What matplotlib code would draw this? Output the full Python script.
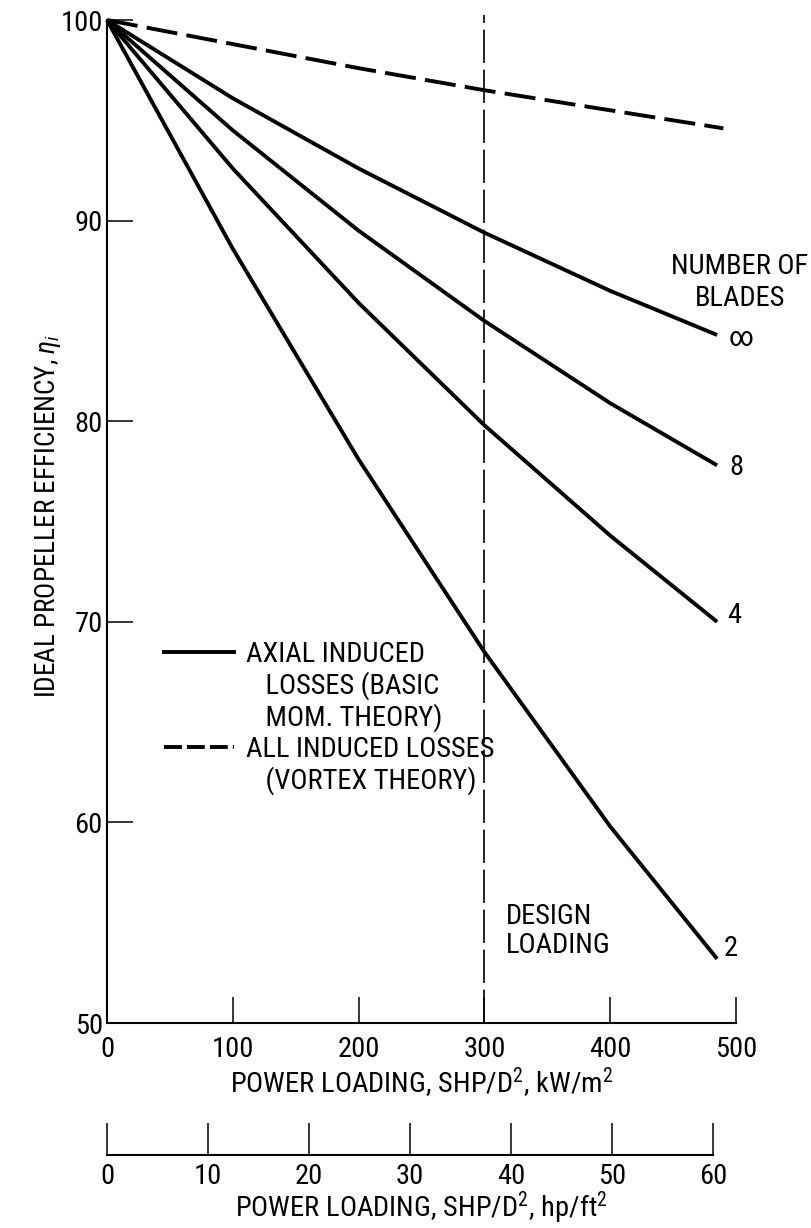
"""
Eficiência ideal da hélice vs carga de potência (recriação do gráfico NASA).
"""

import matplotlib
matplotlib.use("Agg")
import matplotlib.pyplot as plt
from matplotlib import font_manager
from matplotlib.lines import Line2D


def escolher_fonte():
    # o original usa letras estreitas; procura uma fonte condensada instalada
    lista = font_manager.fontManager.ttflist
    nomes = {f.name for f in lista}
    for n in ("Liberation Sans Narrow", "Roboto Condensed", "Noto Sans Condensed",
              "Open Sans Condensed", "DejaVu Sans Condensed"):
        if n in nomes:
            return n, "normal"
    for familia in ("DejaVu Sans", "Noto Sans", "Open Sans", "Roboto"):
        for f in lista:
            if f.name == familia and "condensed" in str(f.stretch):
                return familia, "condensed"
    return "Roboto", "normal"


FONTE, ESTICAR = escolher_fonte()
plt.rcParams["font.family"] = [FONTE, "DejaVu Sans"]
plt.rcParams["font.stretch"] = ESTICAR
plt.rcParams["mathtext.fontset"] = "custom"
sufixo = ":condensed" if ESTICAR == "condensed" else ""
plt.rcParams["mathtext.rm"] = FONTE + sufixo
plt.rcParams["mathtext.it"] = FONTE + ":italic" + sufixo

# dados (carga em kW/m^2, eficiência em %)
carga_kw = [0, 100, 200, 300, 400, 485]
eta_inf = [100, 96.1, 92.6, 89.4, 86.5, 84.3]
eta_8 = [100, 94.5, 89.5, 85.0, 80.9, 77.8]
eta_4 = [100, 92.6, 85.9, 79.8, 74.3, 70.0]
eta_2 = [100, 88.6, 78.1, 68.5, 59.8, 53.2]

carga_vortex = [0, 100, 200, 300, 400, 490]
eta_vortex = [100, 98.8, 97.6, 96.5, 95.5, 94.6]

rotulos_pas = ["\u221e", "8", "4", "2"]
pos_rotulos = [(494, 84.15), (495, 77.7), (493, 70.3), (490, 53.7)]

carga_projeto = 300
ticks_kw = [0, 100, 200, 300, 400, 500]
ticks_eta = [50, 60, 70, 80, 90, 100]
ticks_hp = [0, 10, 20, 30, 40, 50, 60]
KW_POR_HP_FT2 = 8.0267  # 1 hp/ft^2 em kW/m^2

FS = 20.5

fig = plt.figure(figsize=(8.11, 12.28), dpi=100)
ax = fig.add_axes([0.1319, 0.1669, 0.7756, 0.8168])

# curvas da teoria do momento (número de pás)
for eta in (eta_inf, eta_8, eta_4, eta_2):
    ax.plot(carga_kw, eta, color="black", lw=2.8, solid_capstyle="butt",
            solid_joinstyle="round", clip_on=False)

# teoria de vórtice (tracejada)
ax.plot(carga_vortex, eta_vortex, color="black", lw=2.8, dashes=(8, 2.4),
        clip_on=False)

# linha da carga de projeto
ax.axvline(carga_projeto, ymin=0, ymax=1.005, color="black", lw=1.2,
           dashes=(20, 4), clip_on=False)

for txt, (x, y) in zip(rotulos_pas, pos_rotulos):
    ax.text(x, y, txt, fontsize=FS, ha="left", va="center")

ax.text(503, 88.4, "NUMBER OF\nBLADES", fontsize=FS, ha="center", va="top",
        multialignment="center", linespacing=1.25)
ax.text(317, 56.0, "DESIGN\nLOADING", fontsize=FS, ha="left", va="top",
        linespacing=1.1)

# legenda
handles = [
    Line2D([], [], color="black", lw=2.8),
    Line2D([], [], color="none"),
    Line2D([], [], color="none"),
    Line2D([], [], color="black", lw=2.8, dashes=(4.6, 1.3)),
    Line2D([], [], color="none"),
]
labels = [
    "AXIAL INDUCED",
    "   LOSSES (BASIC",
    "   MOM. THEORY)",
    "ALL INDUCED LOSSES",
    "   (VORTEX THEORY)",
]
ax.legend(handles, labels, loc="upper left", bbox_to_anchor=(0.0906, 0.381),
          frameon=False, fontsize=FS, handlelength=2.45, handletextpad=0.42,
          labelspacing=0.12, borderpad=0, borderaxespad=0)

ax.set_xlim(0, 500)
ax.set_ylim(50, 100)
ax.set_xticks(ticks_kw)
ax.set_yticks(ticks_eta)
ax.spines["top"].set_visible(False)
ax.spines["right"].set_visible(False)
for s in ("left", "bottom"):
    ax.spines[s].set_linewidth(1.5)
ax.tick_params(axis="x", direction="in", length=19, width=1.1, pad=9,
               labelsize=FS)
ax.tick_params(axis="y", direction="in", length=19, width=1.1, pad=3,
               labelsize=FS)
ax.set_xlabel("POWER LOADING, SHP/D$^2$, kW/m$^2$", fontsize=FS, labelpad=2)
ax.set_ylabel("IDEAL PROPELLER EFFICIENCY, $\\eta_i$", fontsize=19.5)
ax.yaxis.set_label_coords(-0.07, 0.506)

# segundo eixo em hp/ft^2
ax2 = fig.add_axes([0.1319, 0.0594, 0.7756, 0.03])
ax2.set_xlim(0, 500 / KW_POR_HP_FT2)
ax2.set_xticks(ticks_hp)
ax2.set_yticks([])
for s in ("top", "right", "left"):
    ax2.spines[s].set_visible(False)
ax2.spines["bottom"].set_bounds(0, 60)
ax2.spines["bottom"].set_linewidth(1.5)
ax2.patch.set_visible(False)
ax2.tick_params(axis="x", direction="in", length=23, width=1.1, pad=6,
                labelsize=FS)
ax2.set_xlabel("POWER LOADING, SHP/D$^2$, hp/ft$^2$", fontsize=FS, labelpad=-1)

fig.savefig("out.png", dpi=100)
